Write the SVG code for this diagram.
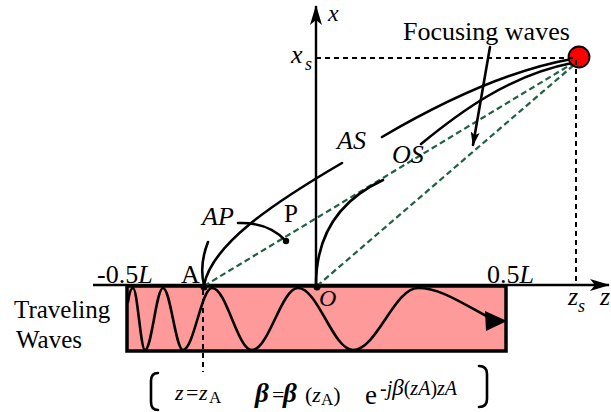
<svg xmlns="http://www.w3.org/2000/svg" width="611" height="412" viewBox="0 0 611 412">
<style>
text{font-family:"Liberation Serif","Times New Roman",serif;fill:#000}
.it{font-style:italic}
.curve{fill:none;stroke:#000;stroke-width:2.6;stroke-linecap:round}
.green{fill:none;stroke:#1e6040;stroke-width:2.2;stroke-dasharray:6 3.5}
.dash{fill:none;stroke:#000;stroke-width:2;stroke-dasharray:5 4}
.axis{fill:none;stroke:#000;stroke-width:2.4}
.dot{fill:#000}
</style>
<defs>
<marker id="ah" viewBox="0 0 20 12" refX="19" refY="6" markerWidth="20" markerHeight="12" markerUnits="userSpaceOnUse" orient="auto"><path d="M0,0 L20,6 L0,12 L5,6 z" fill="#000"/></marker>
<marker id="ah2" viewBox="0 0 14 9" refX="13" refY="4.5" markerWidth="14" markerHeight="9" markerUnits="userSpaceOnUse" orient="auto"><path d="M0,0 L14,4.5 L0,9 L3,4.5 z" fill="#000"/></marker>
</defs>

<g id="traveling-waves">
<rect x="127" y="286" width="379" height="65" fill="#ff9a9a" stroke="#000" stroke-width="3.5"/>
<path class="curve" d="M128,302 Q130,288 133,288 C137.4,288 140.6,350 145,350 C151.6,350 156.4,288 163,288 C170.3,288 175.7,350 183,350 C193.6,350 201.4,288 212,288 C226.6,288 237.4,350 252,350 C268.7,350 281.3,288 298,288 C318,288 333,350 353,350 C376.7,350 394.3,288 418,288 C440,288 460,302 490,318"/>
<polygon points="485,311 507,321 486,331" fill="#000"/>
<text x="14" y="318" font-size="25">Traveling</text>
<text x="16" y="348" font-size="25">Waves</text>
</g>

<g id="axes">
<line class="axis" x1="93" y1="285" x2="609" y2="285" marker-end="url(#ah)"/>
<line class="axis" x1="316" y1="288" x2="316" y2="6" marker-end="url(#ah)"/>
<text x="97" y="283" font-size="26">-0.5<tspan class="it">L</tspan></text>
<text x="487" y="283" font-size="26">0.5<tspan class="it">L</tspan></text>
<text x="328" y="21" font-size="24" class="it">x</text>
<text x="600" y="305" font-size="26" class="it">z</text>
</g>

<g id="connectors">
<path class="green" d="M204,286 L575,62"/>
<path class="green" d="M317,286 L575,64"/>
<path class="curve" d="M204,285 C212,245 270,205 342,163"/>
<path class="curve" d="M382,137 C440,103 510,70 572,59"/>
<path class="curve" d="M316,285 C316,235 340,200 383,180"/>
<path class="curve" d="M421,144 C460,112 510,75 572,63"/>
<path class="curve" d="M238,223 Q268,222 286,241"/>
<path class="curve" d="M208,242 Q199,265 204,285"/>
<line class="curve" x1="490" y1="47" x2="473" y2="145" stroke-width="2.2" marker-end="url(#ah2)"/>
</g>

<g id="source">
<circle cx="579" cy="57" r="10.5" fill="#ff0000" stroke="#000" stroke-width="1.8"/>
<path class="dash" d="M316,58 L577,58"/>
<path class="dash" d="M576,60 L576,285"/>
<text x="291" y="63" font-size="26" class="it">x</text>
<text x="305" y="70" font-size="18" class="it">s</text>
<text x="568" y="305" font-size="26" class="it">z</text>
<text x="578" y="312" font-size="18" class="it">s</text>
<text x="403" y="40" font-size="26">Focusing waves</text>
</g>

<g id="point-A">
<circle class="dot" cx="204" cy="287" r="3.5"/>
<text x="181" y="283" font-size="26">A</text>
<path class="dash" d="M203,290 L203,372"/>
</g>

<g id="point-O">
<circle class="dot" cx="317" cy="287" r="3.5"/>
<text x="319" y="306" font-size="24" class="it">O</text>
</g>

<g id="point-P">
<circle class="dot" cx="286" cy="241" r="3.2"/>
<text x="284" y="222" font-size="25">P</text>
</g>

<g id="labels">
<text x="337" y="149" font-size="26" class="it">AS</text>
<text x="392" y="163" font-size="26" class="it">OS</text>
<text x="202" y="225" font-size="26" class="it">AP</text>
</g>

<g id="formula">
<path class="curve" stroke-width="2.4" d="M158,373 Q151,373 151,381 L151,402 Q151,410 158,410"/>
<path class="curve" stroke-width="2.4" d="M479,366 Q487,366 487,374 L487,399 Q487,407 479,407"/>
<text y="400" font-size="22"><tspan x="175" class="it">z</tspan><tspan x="186">=</tspan><tspan x="199" class="it">z</tspan><tspan x="209" y="403" font-size="17">A</tspan></text>
<text y="402" font-size="27" font-weight="bold" class="it"><tspan x="255">β</tspan></text>
<text y="402" font-size="22"><tspan x="272">=</tspan></text>
<text y="402" font-size="27" font-weight="bold" class="it"><tspan x="283">β</tspan></text>
<text y="402" font-size="22"><tspan x="305">(</tspan><tspan class="it">z</tspan><tspan y="405" font-size="17">A</tspan><tspan y="402">)</tspan></text>
<text y="404" font-size="27"><tspan x="365">e</tspan></text>
<text y="395" font-size="20" class="it"><tspan x="380">-j</tspan><tspan font-size="23">β</tspan><tspan font-style="normal">(</tspan>z<tspan>A</tspan><tspan font-style="normal">)</tspan>z<tspan>A</tspan></text>
</g>
</svg>
